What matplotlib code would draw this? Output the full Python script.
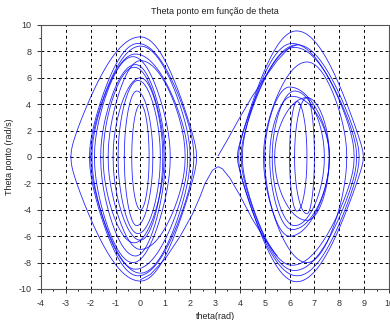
import numpy as np
import matplotlib.pyplot as plt
from matplotlib.ticker import MultipleLocator

# órbitas (theta em rad, theta ponto em rad/s)
# extremo esquerdo, posição do pico, extremo direito, topo, fundo, "forma" (amplitude equivalente)
orbit_left = [-2.8, -2.05, -2.0, -1.95, -1.85, -1.6, -1.5, -1.3, -1.1, -0.9, -0.65, -0.35,
              3.9, 3.95, 4.05, 4.1, 4.95, 5.0, 5.2, 5.4, 5.3, 6.0, 6.2]
orbit_peak = [0.0, -0.1, 0.0, -0.2, -0.3, -0.2, -0.25, 0.0, 0.0, -0.1, -0.15, 0.0,
              6.28, 6.3, 6.2, 6.1, 6.7, 6.0, 6.1, 6.7, 6.2, 6.3, 6.7]
orbit_right = [2.26, 2.15, 2.0, 1.9, 1.2, 1.0, 0.95, 1.8, 0.9, 0.8, 0.5, 0.35,
               8.97, 8.8, 8.7, 8.6, 8.3, 7.6, 7.6, 7.6, 7.4, 6.7, 7.0]
orbit_top = [9.1, 8.6, 8.4, 7.8, 7.6, 7.0, 6.8, 7.3, 6.0, 5.8, 5.0, 4.0,
             9.55, 8.5, 8.3, 8.6, 7.2, 5.3, 4.6, 4.5, 5.0, 4.2, 4.5]
orbit_bottom = [-9.4, -9.0, -8.8, -8.5, -8.0, -7.5, -6.5, -7.0, -6.3, -5.8, -5.2, -4.0,
                -9.45, -9.0, -8.6, -8.2, -8.0, -6.0, -5.5, -4.8, -5.2, -4.1, -4.3]
orbit_shape = [2.9, 2.6, 2.5, 2.4, 2.3, 2.1, 2.0, 2.2, 1.8, 1.6, 1.2, 0.8,
               3.0, 2.8, 2.7, 2.6, 2.2, 1.8, 1.6, 1.4, 1.6, 0.6, 0.8]

# trechos de passagem entre os dois poços
start_theta = [3.13, 3.5, 4.0, 4.5, 5.0, 5.5, 6.0, 6.3]
start_dtheta = [0.1, 1.3, 3.0, 4.6, 6.0, 7.3, 8.3, 8.5]
cross_theta = [5.5, 5.0, 4.5, 4.0, 3.6, 3.3, 3.13, 2.9, 2.6, 2.4, 2.1, 1.6, 1.0, 0.4, 0.0]
cross_dtheta = [-7.5, -6.2, -4.7, -2.9, -1.6, -0.9, -0.73, -1.0, -2.0, -3.0, -4.3, -6.0, -7.7, -8.9, -9.3]

plt.rcParams['font.family'] = ['Liberation Sans', 'DejaVu Sans']
plt.rcParams['axes.unicode_minus'] = False

fig = plt.figure(figsize=(3.9, 3.2), dpi=100)
ax = fig.add_axes([41 / 390, 1 - 289 / 320, 348 / 390, 264 / 320])

s = np.linspace(-1, 1, 241)
for l, p, r, top, bot, a in zip(orbit_left, orbit_peak, orbit_right, orbit_top, orbit_bottom, orbit_shape):
    g = np.sqrt(np.clip((np.cos(s * a) - np.cos(a)) / (1 - np.cos(a)), 0, None))
    th = np.where(s < 0, p + s * (p - l), p + s * (r - p))
    ax.plot(np.concatenate([th, th[::-1]]), np.concatenate([top * g, bot * g[::-1]]),
            color='#0000ff', lw=0.6, alpha=0.85)

ax.plot(start_theta, start_dtheta, color='#0000ff', lw=0.6, alpha=0.85)
ax.plot(cross_theta, cross_dtheta, color='#0000ff', lw=0.6, alpha=0.85)

ax.set_xlim(-4, 10)
ax.set_ylim(-10, 10)
ax.xaxis.set_major_locator(MultipleLocator(1))
ax.xaxis.set_minor_locator(MultipleLocator(0.5))
ax.yaxis.set_major_locator(MultipleLocator(2))
ax.yaxis.set_minor_locator(MultipleLocator(1))
ax.grid(True, which='major', color='black', linestyle=(0, (3, 3)), linewidth=0.7)
ax.tick_params(labelsize=6.5, colors='#333333', length=3, width=0.7, pad=4)
ax.tick_params(which='minor', length=1.5, width=0.6)
for sp in ax.spines.values():
    sp.set_color('#555555')
    sp.set_linewidth(0.8)

ax.set_title('Theta ponto em função de theta', fontsize=6.5, color='#222222', pad=8)
ax.set_xlabel('theta(rad)', fontsize=6.5, color='#222222', labelpad=3)
ax.set_ylabel('Theta ponto (rad/s)', fontsize=6.5, color='#222222', labelpad=3)

fig.savefig('out.png', dpi=100)
